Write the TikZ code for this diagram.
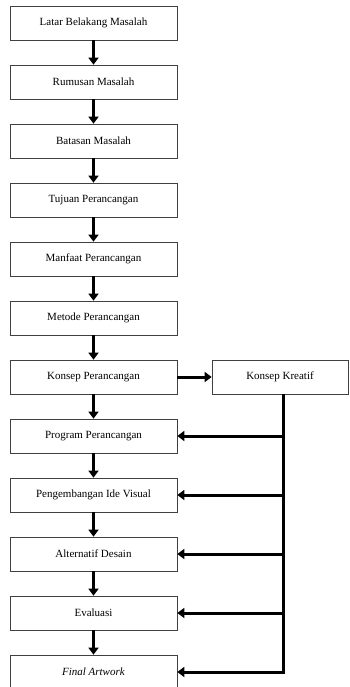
\documentclass[tikz,border=0pt]{standalone}
\usepackage{fontspec}
\setmainfont{Liberation Serif}
\usetikzlibrary{shapes,arrows.meta}
\tikzstyle{bx}=[rectangle,draw=black!75,line width=0.7pt,minimum width=167pt,minimum height=34pt,inner sep=1pt,font=\fontsize{11}{13}\selectfont]
\tikzstyle{ar}=[line width=3pt,-{Triangle[length=7pt,width=10pt]}]

\begin{document}
\begin{tikzpicture}[x=1pt,y=-1pt]
	\useasboundingbox (0,0) rectangle (350,687);
	\foreach \n/\t [count=\i from 0] in {a/Latar Belakang Masalah,b/Rumusan Masalah,c/Batasan Masalah,d/Tujuan Perancangan,e/Manfaat Perancangan,f/Metode Perancangan,g/Konsep Perancangan,h/Program Perancangan,i/Pengembangan Ide Visual,j/Alternatif Desain,k/Evaluasi,l/{\textit{Final Artwork}}}
	\node[bx] (\n) at (93.5,23+59*\i) {\t};
	\node[bx,minimum width=136pt] (kk) at (280,377) {Konsep Kreatif};
	\foreach \a/\b in {a/b,b/c,c/d,d/e,e/f,f/g,g/h,h/i,i/j,j/k,k/l}
	\draw[ar] (\a) -- (\b);
	\draw[ar] (g) -- (kk);
	% garis balik dari konsep kreatif
	\coordinate (t) at (283.5,394);
	\coordinate (u) at (283.5,674);
	\draw[line width=3pt] (t) -- (u);
	\foreach \n in {h,i,j,k,l}
	\draw[ar] (u |- \n) -- (\n.east);
\end{tikzpicture}
\end{document}
